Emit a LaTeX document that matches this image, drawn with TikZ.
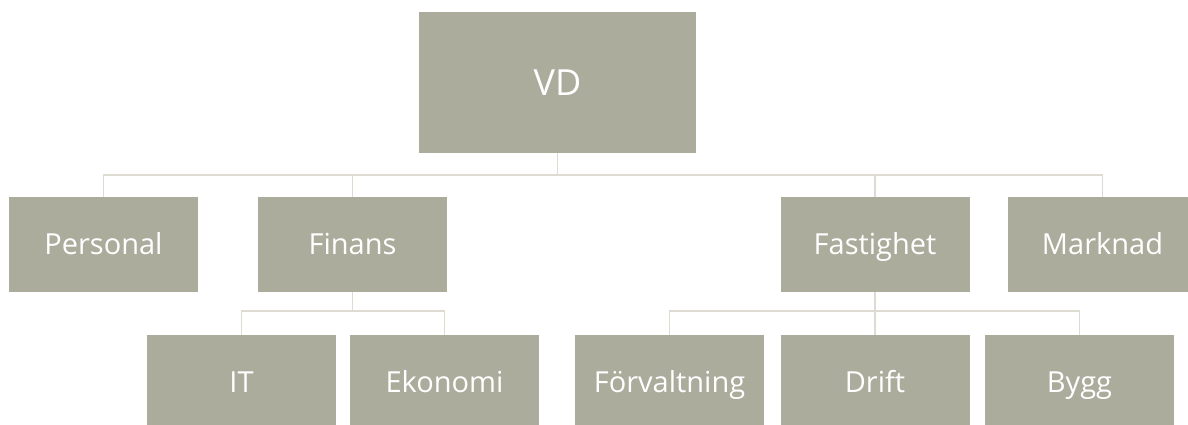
\documentclass[tikz,border=0pt]{standalone}
\usepackage{fontspec}
\setsansfont{Open Sans}
\usepackage{tikz}
\usetikzlibrary{calc}
\definecolor{orgBox}{HTML}{ABAC9C}
\definecolor{orgLine}{HTML}{DEDCD2}
\tikzset{
  orgnode/.style={rectangle,fill=orgBox,text=white,minimum width=189pt,
                  minimum height=95pt,inner sep=0pt,text height=20.5pt,
                  text depth=0pt,
                  font=\sffamily\fontsize{29}{32}\selectfont},
  orgtop/.style={orgnode,minimum width=277pt,minimum height=141pt,
                 text height=25.5pt,
                 font=\sffamily\fontsize{36}{40}\selectfont},
  orgline/.style={orgLine,line width=1.5pt}
}
\begin{document}
\begin{tikzpicture}[x=1pt,y=-1pt]
    \useasboundingbox (0,0) rectangle (1188,424);

    \node[orgtop] (vd) at (557.5,82.5) {VD};

    \node[orgnode] (personal) at (103.5,244.5) {Personal};
    \node[orgnode] (finans) at (352.5,244.5) {Finans};
    \node[orgnode] (fastighet) at (875,244.5) {Fastighet};
    \node[orgnode] (marknad) at (1102.5,244.5) {Marknad};

    \node[orgnode] (it) at (241.5,382.5) {IT};
    \node[orgnode] (ekonomi) at (444.5,382.5) {Ekonomi};
    \node[orgnode] (forvaltning) at (669.5,382.5) {Förvaltning};
    \node[orgnode] (drift) at (875,382.5) {Drift};
    \node[orgnode] (bygg) at (1079.5,382.5) {Bygg};

    % connector levels
    \coordinate (bus1) at (0,175);
    \coordinate (bus2) at (0,311);

    \foreach \n in {personal,finans,fastighet,marknad}
      \draw[orgline] (vd.south) -- (vd.south |- bus1) -| (\n.north);
    \foreach \n in {it,ekonomi}
      \draw[orgline] (finans.south) -- (finans.south |- bus2) -| (\n.north);
    \foreach \n in {forvaltning,drift,bygg}
      \draw[orgline] (fastighet.south) -- (fastighet.south |- bus2) -| (\n.north);
  \end{tikzpicture}
\end{document}
